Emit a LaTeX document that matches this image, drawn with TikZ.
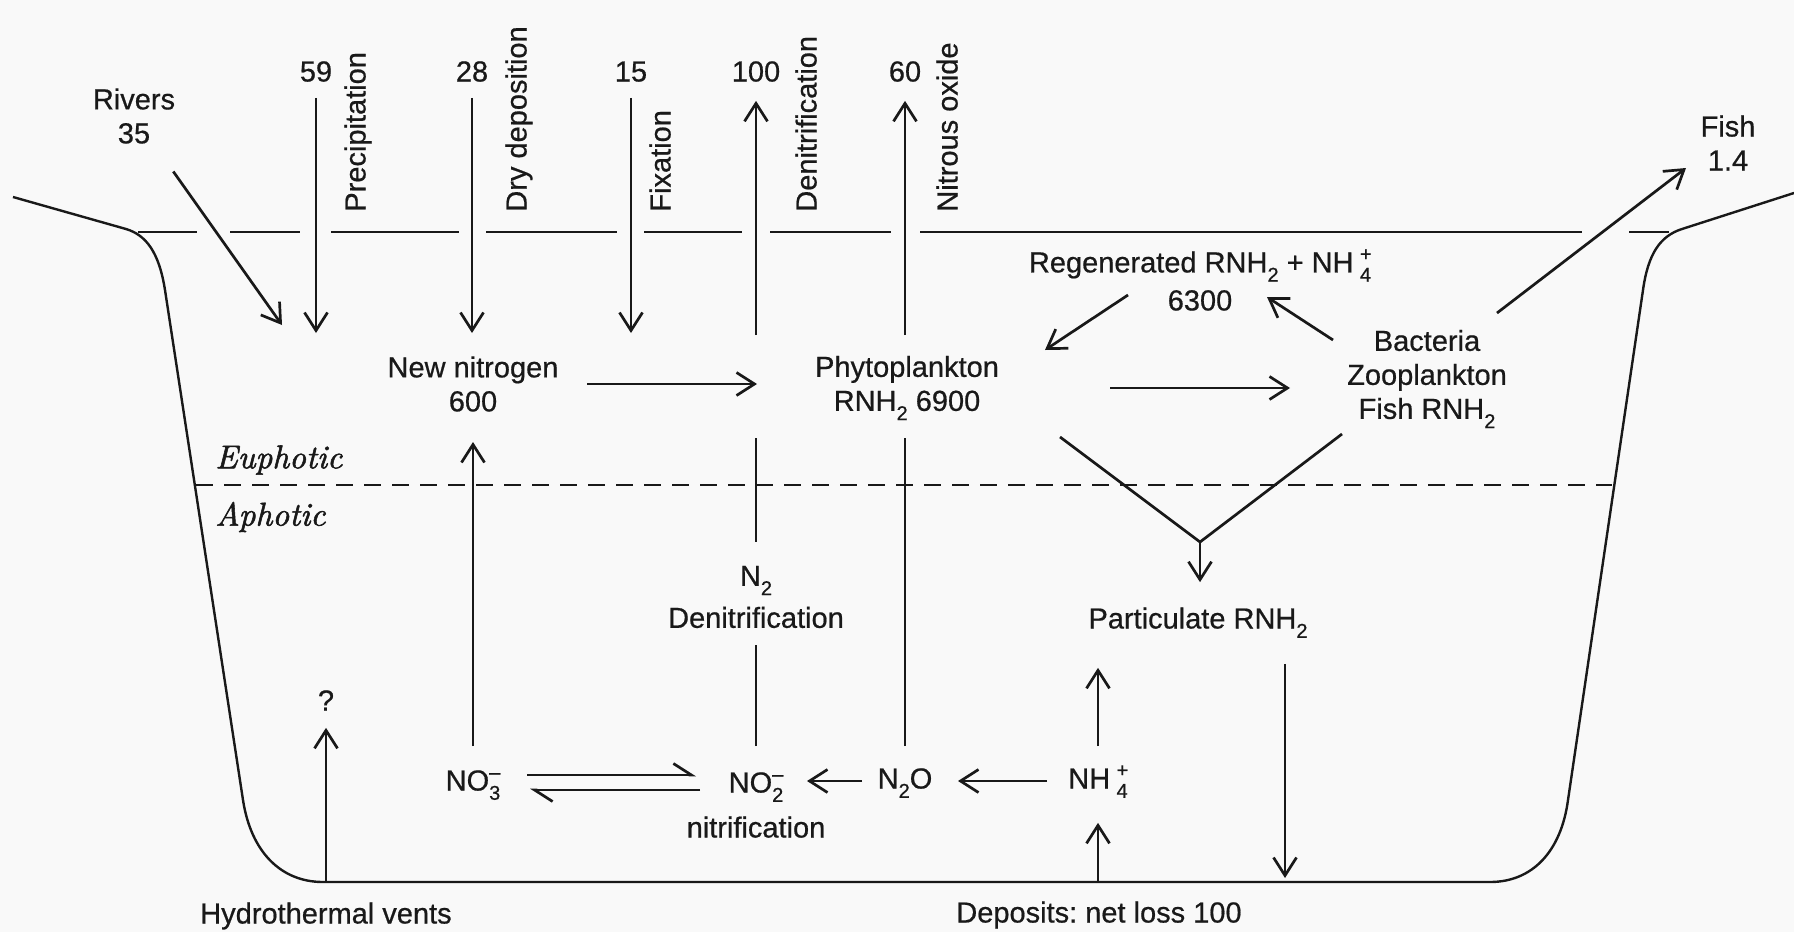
\documentclass[tikz,border=0pt]{standalone}
\usepackage{fontspec}
\newfontfamily\lsans{Liberation Sans}[FakeBold=0.6]
\newfontfamily\zonefont{lmroman10-italic.otf}[FakeBold=1.6]
\usetikzlibrary{arrows.meta,calc}
\newcommand{\chsub}[1]{\raisebox{-0.32em}{\fontsize{20}{20}\selectfont #1}}
\newcommand{\chss}[2]{\rlap{\raisebox{0.40em}{\fontsize{20}{20}\selectfont #2}}\raisebox{-0.32em}{\fontsize{20}{20}\selectfont #1}}
\definecolor{ink}{gray}{0.1}
\definecolor{paper}{gray}{0.975}
\frenchspacing
\begin{document}
\begin{tikzpicture}[x=1pt,y=-1pt,line width=2.7pt,color=ink,
  every node/.style={font=\lsans\fontsize{29}{34}\selectfont, inner sep=0pt, align=center, text=ink},
  lbl/.style={text height=21pt, text depth=6pt},
  arr/.style={-{Straight Barb[length=18pt,width=23pt]}},
  harp/.style={-{Straight Barb[left,length=18pt,width=23pt]}},
  vlab/.style={rotate=90, anchor=west, lbl},
  zone/.style={font=\zonefont\fontsize{33}{38}\selectfont, anchor=west}]
\fill[paper] (0,0) rectangle (1794,932);
\useasboundingbox (0,0) rectangle (1794,932);

% basin outline
\draw[line width=2.4pt] (13,197) -- (126,229) .. controls (146,235) and (159,252) .. (165,290)
  -- (243,800) .. controls (251,852) and (281,882) .. (323,882) -- (1490,882)
  .. controls (1532,882) and (1561,852) .. (1568,800) -- (1643,290)
  .. controls (1648,254) and (1660,236) .. (1682,229) -- (1794,193);
% sea surface
\foreach \a/\b in {138/197, 230/300, 331/459, 486/617, 644/742, 770/891, 920/1582, 1629/1669}
  \draw[line width=2.4pt] (\a,232) -- (\b,232);
% euphotic / aphotic boundary
\draw[line width=2.4pt, dash pattern=on 17pt off 11pt] (196,485) -- (1612,485);
\node[zone] (eu) at (214,460) {Euphotic};
\node[zone] (aph) at (214,517) {Aphotic};

% top labels
\node (rivers) at (134,116) {Rivers\\35};
\node[lbl] (n59) at (316,74) {59};
\node[lbl] (n28) at (472,74) {28};
\node[lbl] (n15) at (631,74) {15};
\node[lbl] (n100) at (756,74) {100};
\node[lbl] (n60) at (905,74) {60};
\node[vlab] (lprec) at (358,213) {Precipitation};
\node[vlab] (ldry) at (519,213) {Dry deposition};
\node[vlab] (lfix) at (663,213) {Fixation};
\node[vlab] (lden) at (809,213) {Denitrification};
\node[vlab] (lnit) at (950,213) {Nitrous oxide};
\node (fish) at (1728,143) {Fish\\1.4};

% euphotic zone
\node (regen) at (1200,280) {Regenerated RNH\chsub{2} + NH\hspace{0.22em}\chss{4}{+}\\[4pt]6300};
\node (bact) at (1427,379) {Bacteria\\Zooplankton\\Fish RNH\chsub{2}};
\node (nn) at (473,384) {New nitrogen\\600};
\node (phyto) at (907,388) {Phytoplankton\\RNH\chsub{2} 6900};

% aphotic zone
\node[lbl] (part) at (1198,621) {Particulate RNH\chsub{2}};
\node (n2) at (756,597) {N\chsub{2}\\[8pt]Denitrification};
\node[lbl] (no3) at (473,783) {NO\chss{3}{\textendash}};
\node[lbl] (no2) at (756,785) {NO\chss{2}{\textendash}};
\node[lbl] (nitrif) at (756,830) {nitrification};
\node[lbl] (n2o) at (905,781) {N\chsub{2}O};
\node[lbl] (nh4) at (1098,781) {NH\hspace{0.22em}\chss{4}{+}};
\node[lbl] (q) at (326,703) {?};
\node[lbl] (hydro) at (326,916) {Hydrothermal vents};
\node[lbl] (dep) at (1099,915) {Deposits: net loss 100};

% free ends
\coordinate (rivT) at (282,325);
\coordinate (precT) at (316,333);
\coordinate (dryT) at (472,333);
\coordinate (fixT) at (631,333);
\coordinate (denB) at (756,335);
\coordinate (nitB) at (905,335);
\coordinate (rpS) at (1128,295);
\coordinate (rpT) at (1045,350);
\coordinate (brS) at (1333,340);
\coordinate (brT) at (1267,297);
\coordinate (fS) at (1497,313);
\coordinate (fT) at (1686,168);
\coordinate (vL) at (1060,437);
\coordinate (vR) at (1342,434);
\coordinate (vtx) at (1200,542);
\coordinate (depT) at (1285,878);
\coordinate (nh4B) at (1098,882);
\coordinate (hydB) at (326,882);

% inputs from atmosphere and rivers
\draw[arr, shorten <=68pt] (rivers.center) -- (rivT);
\draw[arr, shorten <=9pt] (n59.south) -- (precT);
\draw[arr, shorten <=9pt] (n28.south) -- (dryT);
\draw[arr, shorten <=9pt] (n15.south) -- (fixT);
\draw[arr, shorten >=12pt] (denB) -- (n100.south);
\draw[arr, shorten >=12pt] (nitB) -- (n60.south);
\draw[arr] (fS) -- (fT);

% euphotic flows
\draw[arr, shorten <=114pt, shorten >=150pt] (nn.center) -- (nn.center -| phyto.center);
\draw[arr, shorten <=203pt, shorten >=137pt] (phyto.center) -- (phyto.center -| bact.center);
\draw[arr] (rpS) -- (rpT);
\draw[arr] (brS) -- (brT);
\draw (vL) -- (vtx) -- (vR);
\draw[arr, shorten >=24pt] (vtx) -- (vtx |- part.north);

% aphotic flows
\draw[arr, shorten <=28pt] (part.south -| depT) -- (depT);
\draw[arr, shorten <=20pt, shorten >=32pt] (nh4.north) -- (nh4.north |- part.south);
\draw[arr, shorten >=27pt] (nh4B) -- (nh4.south);
\draw[arr, shorten >=10pt] (hydB) -- (q.south);
\draw[arr, shorten <=22pt, shorten >=29pt] (no3.north) -- (no3.north |- nn.south);
\draw[shorten <=24pt, shorten >=16pt] (no2.north) -- (n2.south);
\draw[shorten <=23pt, shorten >=103pt] (n2.north) -- (denB);
\draw[shorten <=20pt, shorten >=103pt] (n2o.north) -- (nitB);
\draw[arr, shorten <=51pt, shorten >=53pt] (nh4.center) -- (nh4.center -| n2o.center);
\draw[arr, shorten <=43pt, shorten >=51pt] (n2o.center) -- (n2o.center -| no2.center);
\draw[harp, shorten <=54pt, shorten >=60pt] ($(no3.center)+(0,-8)$) -- ($(no3.center -| no2.center)+(0,-8)$);
\draw[harp, shorten <=56pt, shorten >=57pt] ($(no3.center -| no2.center)+(0,7)$) -- ($(no3.center)+(0,7)$);
\end{tikzpicture}
\end{document}
